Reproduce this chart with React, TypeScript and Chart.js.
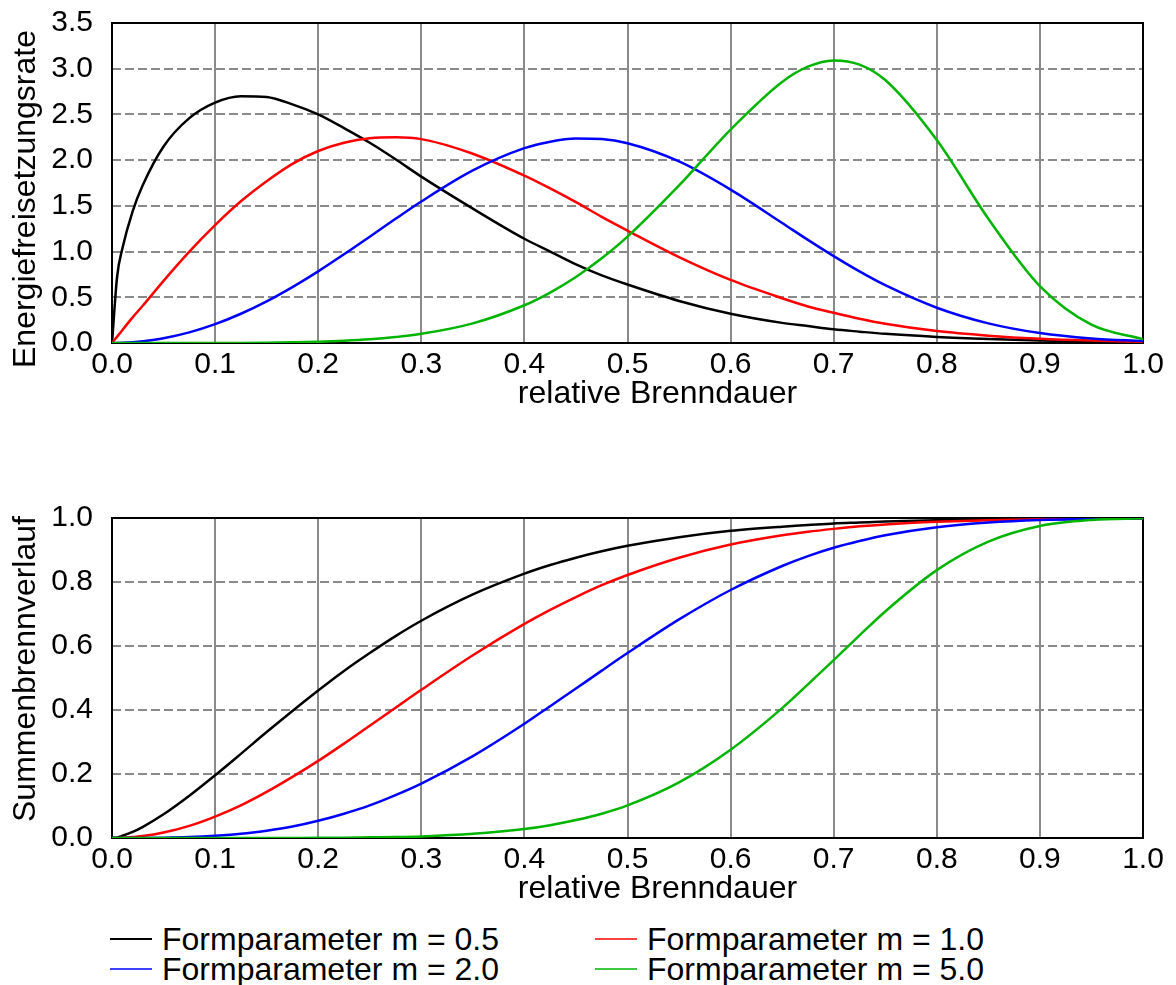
import React, { useEffect, useRef } from "react";
import { Chart, registerables } from "chart.js";

Chart.register(...registerables);

// relative burn duration (x values shared by all series)
const T = [0, 0.005, 0.01, 0.02, 0.03, 0.05, 0.075, 0.1, 0.125, 0.15, 0.175, 0.2, 0.225, 0.25, 0.275, 0.3, 0.35, 0.4, 0.425, 0.45, 0.475, 0.5, 0.55, 0.6, 0.65, 0.675, 0.7, 0.725, 0.75, 0.8, 0.85, 0.9, 0.95, 1.0];

// Energiefreisetzungsrate (upper chart)
const RATE_M05 = [0, 0.73, 1.03, 1.44, 1.73, 2.15, 2.46, 2.63, 2.7, 2.69, 2.61, 2.5, 2.35, 2.19, 2.01, 1.82, 1.47, 1.14, 1.0, 0.86, 0.74, 0.64, 0.46, 0.32, 0.22, 0.185, 0.15, 0.124, 0.1, 0.066, 0.043, 0.027, 0.017, 0.01];
const RATE_M10 = [0, 0.07, 0.14, 0.28, 0.41, 0.68, 1.0, 1.29, 1.55, 1.77, 1.96, 2.1, 2.19, 2.24, 2.25, 2.23, 2.07, 1.83, 1.69, 1.54, 1.38, 1.23, 0.94, 0.69, 0.49, 0.4, 0.33, 0.265, 0.21, 0.13, 0.08, 0.046, 0.026, 0.014];
const RATE_M20 = [0, 0.0005, 0.002, 0.008, 0.019, 0.052, 0.116, 0.206, 0.32, 0.456, 0.612, 0.784, 0.97, 1.163, 1.358, 1.548, 1.888, 2.131, 2.202, 2.236, 2.23, 2.185, 1.986, 1.678, 1.313, 1.128, 0.95, 0.783, 0.632, 0.386, 0.215, 0.109, 0.05, 0.021];
const RATE_M50 = [0, 0, 0, 0, 0, 0, 0, 0, 0.001, 0.003, 0.007, 0.013, 0.024, 0.04, 0.065, 0.1, 0.215, 0.413, 0.552, 0.722, 0.926, 1.163, 1.723, 2.335, 2.856, 3.022, 3.091, 3.045, 2.876, 2.22, 1.359, 0.623, 0.2, 0.041];

// Summenbrennverlauf (lower chart)
const CUM_M05 = [0, 0.002, 0.007, 0.019, 0.035, 0.074, 0.132, 0.196, 0.263, 0.331, 0.397, 0.461, 0.522, 0.578, 0.631, 0.679, 0.761, 0.826, 0.853, 0.876, 0.896, 0.913, 0.94, 0.96, 0.973, 0.978, 0.983, 0.986, 0.989, 0.993, 0.996, 0.997, 0.998, 0.999];
const CUM_M10 = [0, 0.0002, 0.0007, 0.003, 0.006, 0.017, 0.038, 0.067, 0.102, 0.144, 0.191, 0.241, 0.295, 0.351, 0.407, 0.463, 0.571, 0.669, 0.713, 0.753, 0.79, 0.822, 0.876, 0.917, 0.946, 0.957, 0.966, 0.974, 0.98, 0.988, 0.993, 0.996, 0.998, 0.999];
const CUM_M20 = [0, 0, 0, 0.0001, 0.0002, 0.0009, 0.003, 0.007, 0.013, 0.023, 0.036, 0.054, 0.076, 0.102, 0.134, 0.17, 0.256, 0.357, 0.412, 0.467, 0.523, 0.578, 0.683, 0.775, 0.85, 0.881, 0.907, 0.928, 0.946, 0.971, 0.986, 0.994, 0.997, 0.999];
const CUM_M50 = [0, 0, 0, 0, 0, 0, 0, 0, 0, 0, 0.0002, 0.0004, 0.0009, 0.002, 0.003, 0.005, 0.013, 0.028, 0.04, 0.056, 0.076, 0.102, 0.174, 0.276, 0.406, 0.48, 0.556, 0.633, 0.708, 0.837, 0.926, 0.975, 0.994, 0.999];

const SERIES_LABELS = ["Formparameter m = 0.5", "Formparameter m = 1.0", "Formparameter m = 2.0", "Formparameter m = 5.0"];
const SERIES_COLORS = ["#000000", "#ff0000", "#0000ff", "#00b400"];

const X_TICKS = [0, 0.1, 0.2, 0.3, 0.4, 0.5, 0.6, 0.7, 0.8, 0.9, 1.0];
const X_TICK_LABELS = ["0.0", "0.1", "0.2", "0.3", "0.4", "0.5", "0.6", "0.7", "0.8", "0.9", "1.0"];
const TOP_Y_TICKS = [0, 0.5, 1.0, 1.5, 2.0, 2.5, 3.0, 3.5];
const TOP_Y_TICK_LABELS = ["0.0", "0.5", "1.0", "1.5", "2.0", "2.5", "3.0", "3.5"];
const BOTTOM_Y_TICKS = [0, 0.2, 0.4, 0.6, 0.8, 1.0];
const BOTTOM_Y_TICK_LABELS = ["0.0", "0.2", "0.4", "0.6", "0.8", "1.0"];

const X_TITLE = "relative Brenndauer";
const TOP_Y_TITLE = "Energiefreisetzungsrate";
const BOTTOM_Y_TITLE = "Summenbrennverlauf";

const FONT = '"Liberation Sans", Arial, Helvetica, sans-serif';
const TICK_SIZE = 30;
const TITLE_SIZE = 32;

const frameAndTitles = {
  id: "frameAndTitles",
  beforeDatasetsDraw(chart: any) {
    const { ctx, chartArea: a } = chart;
    ctx.save();
    ctx.strokeStyle = "#000000";
    ctx.lineWidth = 2;
    ctx.strokeRect(a.left, a.top, a.right - a.left, a.bottom - a.top);
    ctx.restore();
  },
  afterDraw(chart: any, _args: any, opts: any) {
    const { ctx, chartArea: a } = chart;
    ctx.save();
    ctx.fillStyle = "#000000";
    ctx.font = `${TITLE_SIZE}px ${FONT}`;
    ctx.textAlign = "center";
    ctx.textBaseline = "alphabetic";
    ctx.fillText(opts.xTitle, (a.left + a.right) / 2 + opts.xDx, a.bottom + opts.xDy);
    ctx.translate(opts.yX, (a.top + a.bottom) / 2 + opts.yDy);
    ctx.rotate(-Math.PI / 2);
    ctx.fillText(opts.yTitle, 0, 0);
    ctx.restore();
  },
};

function makeConfig(
  series: number[][],
  yTicks: number[],
  yLabels: string[],
  yMax: number,
  padTop: number,
  xAxisHeight: number,
  titles: any
): any {
  const order = [3, 2, 1, 0];
  return {
    type: "line",
    data: {
      datasets: series.map((vals, i) => ({
        label: SERIES_LABELS[i],
        data: T.map((t, k) => ({ x: t, y: vals[k] })),
        borderColor: SERIES_COLORS[i],
        backgroundColor: SERIES_COLORS[i],
        borderWidth: 2.5,
        pointRadius: 0,
        cubicInterpolationMode: "monotone",
        fill: false,
        order: order[i],
      })),
    },
    options: {
      responsive: false,
      animation: false,
      events: [],
      layout: { padding: { top: padTop, left: 0, right: 33, bottom: 0 } },
      plugins: {
        legend: { display: false },
        tooltip: { enabled: false },
        title: { display: false },
        frameAndTitles: titles,
      },
      scales: {
        x: {
          type: "linear",
          min: 0,
          max: 1,
          afterBuildTicks: (s: any) => {
            s.ticks = X_TICKS.map((v) => ({ value: v }));
          },
          afterFit: (s: any) => {
            s.height = xAxisHeight;
            s.paddingLeft = 0;
            s.paddingRight = 0;
          },
          grid: { color: "#8a8a8a", lineWidth: 2, drawTicks: false },
          border: { display: false },
          ticks: {
            autoSkip: false,
            maxRotation: 0,
            padding: 4,
            color: "#000000",
            font: { family: FONT, size: TICK_SIZE, lineHeight: 1.2 },
            callback: (_v: any, i: number) => X_TICK_LABELS[i],
          },
        },
        y: {
          type: "linear",
          min: 0,
          max: yMax,
          afterBuildTicks: (s: any) => {
            s.ticks = yTicks.map((v) => ({ value: v }));
          },
          afterFit: (s: any) => {
            s.width = 112;
            s.paddingTop = 0;
            s.paddingBottom = 0;
          },
          grid: { color: "#8a8a8a", lineWidth: 2, drawTicks: false },
          border: { display: false, dash: [9, 4] },
          ticks: {
            autoSkip: false,
            padding: 19,
            color: "#000000",
            font: { family: FONT, size: TICK_SIZE, lineHeight: 1.2 },
            callback: (_v: any, i: number) => yLabels[i],
          },
        },
      },
    },
    plugins: [frameAndTitles],
  };
}

export default function App() {
  const topRef = useRef<HTMLCanvasElement | null>(null);
  const bottomRef = useRef<HTMLCanvasElement | null>(null);

  useEffect(() => {
    document.body.style.margin = "0";
    const top = new Chart(
      topRef.current as HTMLCanvasElement,
      makeConfig([RATE_M05, RATE_M10, RATE_M20, RATE_M50], TOP_Y_TICKS, TOP_Y_TICK_LABELS, 3.5, 23, 97, {
        xTitle: X_TITLE,
        yTitle: TOP_Y_TITLE,
        xDx: 30,
        xDy: 60,
        yX: 35,
        yDy: 16,
      })
    );
    const bottom = new Chart(
      bottomRef.current as HTMLCanvasElement,
      makeConfig([CUM_M05, CUM_M10, CUM_M20, CUM_M50], BOTTOM_Y_TICKS, BOTTOM_Y_TICK_LABELS, 1.0, 78, 72, {
        xTitle: X_TITLE,
        yTitle: BOTTOM_Y_TITLE,
        xDx: 30,
        xDy: 60,
        yX: 35,
        yDy: -9,
      })
    );
    return () => {
      top.destroy();
      bottom.destroy();
    };
  }, []);

  return (
    <div style={{ position: "relative", width: 1176, height: 985, background: "#ffffff", overflow: "hidden" }}>
      <canvas ref={topRef} width={1176} height={440} style={{ position: "absolute", left: 0, top: 0 }} />
      <canvas ref={bottomRef} width={1176} height={470} style={{ position: "absolute", left: 0, top: 440 }} />
      <div
        style={{
          position: "absolute",
          left: 110,
          top: 924,
          display: "grid",
          gridTemplateColumns: "485px auto",
          fontFamily: FONT,
          fontSize: TITLE_SIZE,
          lineHeight: "30px",
          color: "#000000",
          whiteSpace: "nowrap",
        }}
      >
        {SERIES_LABELS.map((label, i) => (
          <div key={label} style={{ display: "flex", alignItems: "center" }}>
            <span
              style={{
                display: "inline-block",
                width: 42,
                height: 2,
                background: SERIES_COLORS[i],
                opacity: i === 0 ? 1 : 0.75,
                marginRight: 10,
              }}
            />
            <span>{label}</span>
          </div>
        ))}
      </div>
    </div>
  );
}
